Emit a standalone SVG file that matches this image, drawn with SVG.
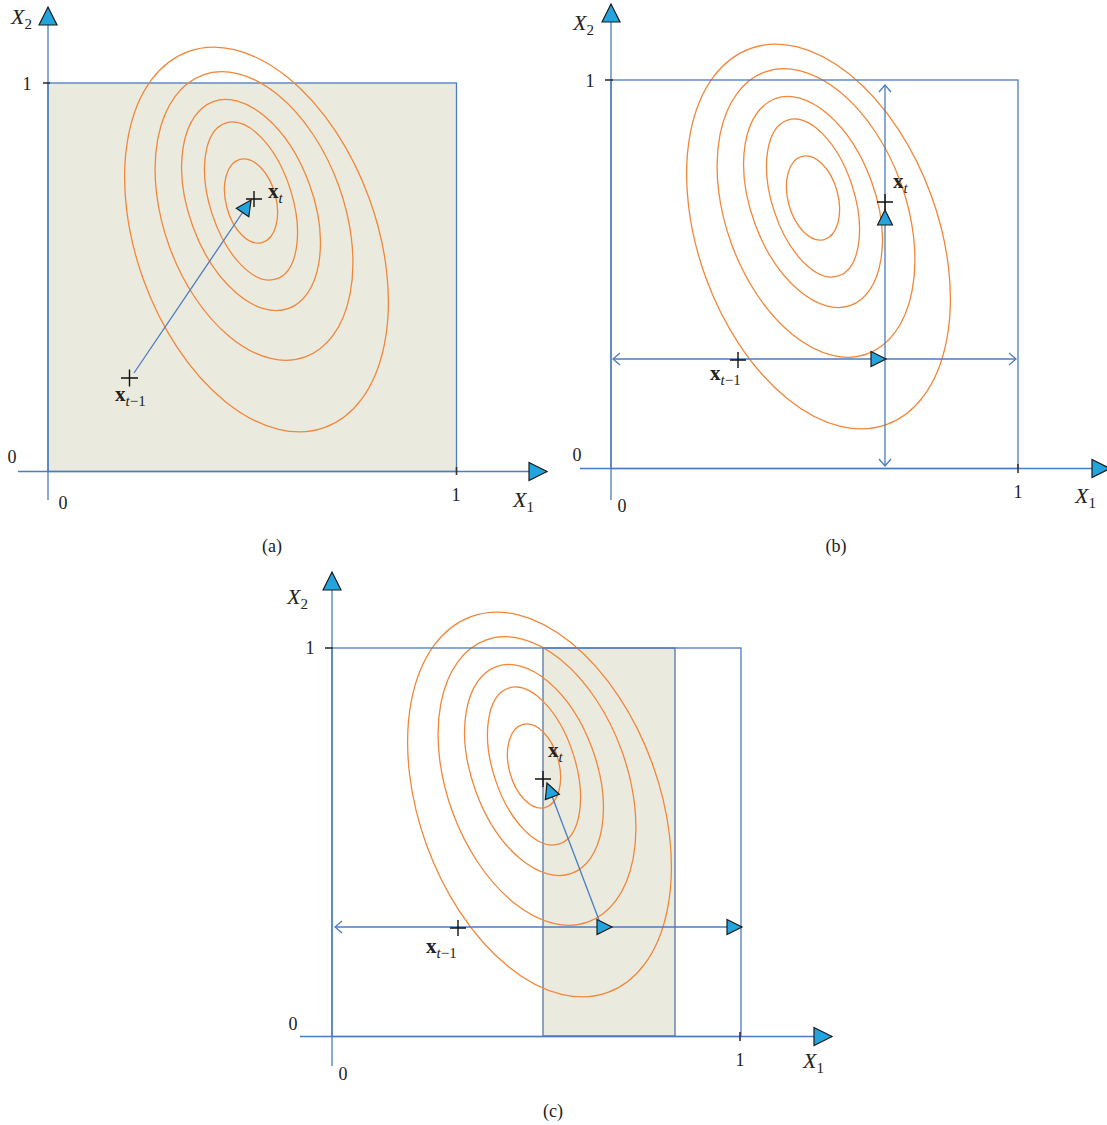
<svg xmlns="http://www.w3.org/2000/svg" xmlns:xlink="http://www.w3.org/1999/xlink" width="1107" height="1125" viewBox="0 0 1107 1125">
<style>
.ax{stroke:#4A7CC0;stroke-width:1.3;fill:none}
.ell{stroke:#F0873A;stroke-width:1.3;fill:none}
.tick{stroke:#333;stroke-width:1.6}
.cross{stroke:#111;stroke-width:1.4;fill:none}
.shade{fill:#EBEADF;stroke:#4A7CC0;stroke-width:1.3}
.tri{fill:#22A5DF;stroke:#1a1a1a;stroke-width:1.2;stroke-linejoin:miter}
text{font-family:"Liberation Serif","DejaVu Serif",serif;fill:#222}
.num{font-size:18px}
.var{font-size:22px;font-style:italic}
.sub{font-size:15px;font-style:normal}
.bx{font-size:21px;font-weight:bold}
.it{font-style:italic;font-weight:normal;font-size:15px}
.rm{font-style:normal;font-weight:normal;font-size:15px}
</style>
<defs>
<marker id="axTri" markerUnits="userSpaceOnUse" markerWidth="20" markerHeight="20" refX="18" refY="9" orient="auto" overflow="visible">
<path class="tri" d="M0,0 L18,9 L0,18 z"/>
</marker>
<marker id="smTri" markerUnits="userSpaceOnUse" markerWidth="16" markerHeight="16" refX="15" refY="7.5" orient="auto" overflow="visible">
<path class="tri" d="M0,0 L15,7.5 L0,15 z"/>
</marker>
<marker id="open" markerUnits="userSpaceOnUse" markerWidth="10" markerHeight="14" refX="8" refY="7" orient="auto-start-reverse" overflow="visible">
<path d="M1,1 L8,7 L1,13" fill="none" stroke="#4A7CC0" stroke-width="1.3"/>
</marker>
<path id="tri15" class="tri" d="M-15,-7.5 L0,0 L-15,7.5 z"/>
<g id="contours">
<ellipse class="ell" cx="256.5" cy="239.5" rx="120" ry="200" transform="rotate(-20 256.5 239.5)"/>
<ellipse class="ell" cx="254" cy="216" rx="90" ry="150" transform="rotate(-20 254 216)"/>
<ellipse class="ell" cx="251" cy="205" rx="62" ry="110" transform="rotate(-20 251 205)"/>
<ellipse class="ell" cx="251" cy="201" rx="41" ry="82" transform="rotate(-18 251 201)"/>
<ellipse class="ell" cx="251" cy="201" rx="25" ry="43" transform="rotate(-15 251 201)"/>
</g>
</defs>

<!-- Panel (a) -->
<g id="panel-a">
<rect id="a-region" class="shade" x="48" y="83" width="408.5" height="388.5"/>
<use href="#contours"/>
<g id="a-axes">
<line class="ax" x1="48" y1="500" x2="48" y2="7" marker-end="url(#axTri)"/>
<line class="ax" x1="18" y1="471.5" x2="547" y2="471.5" marker-end="url(#axTri)"/>
<line class="tick" x1="43" y1="83" x2="50" y2="83"/>
<line class="tick" x1="456.5" y1="467" x2="456.5" y2="475"/>
</g>
<g id="a-connectors">
<line class="ax" x1="134" y1="373" x2="251" y2="200" marker-end="url(#smTri)"/>
</g>
<g id="a-xt"><path class="cross" d="M246,199 H262 M254,191 V207"/>
<text x="268" y="198" class="bx">x<tspan class="it" dy="5">t</tspan></text></g>
<g id="a-xt1"><path class="cross" d="M121,378 H138 M129.5,369.5 V386.5"/>
<text x="115" y="401" class="bx">x<tspan class="it" dy="5">t</tspan><tspan class="rm">−1</tspan></text></g>
<text class="var" x="11" y="24">X<tspan class="sub" dy="5">2</tspan></text>
<text class="num" x="27" y="90" text-anchor="middle">1</text>
<text class="num" x="12" y="463" text-anchor="middle">0</text>
<text class="num" x="63" y="509" text-anchor="middle">0</text>
<text class="num" x="456" y="501" text-anchor="middle">1</text>
<text class="var" x="513" y="507">X<tspan class="sub" dy="5">1</tspan></text>
<text class="num" x="272" y="552" text-anchor="middle">(a)</text>
</g>

<!-- Panel (b) -->
<g id="panel-b">
<use href="#contours" transform="translate(562,-3)"/>
<g id="b-axes">
<rect class="ax" x="611" y="80" width="407" height="388.5"/>
<line class="ax" x1="611" y1="500" x2="611" y2="4" marker-end="url(#axTri)"/>
<line class="ax" x1="580" y1="468.5" x2="1110" y2="468.5" marker-end="url(#axTri)"/>
<line class="tick" x1="605" y1="80" x2="613" y2="80"/>
<line class="tick" x1="1018" y1="464" x2="1018" y2="473"/>
</g>
<g id="b-connectors">
<line class="ax" x1="885" y1="85" x2="885" y2="466" marker-start="url(#open)" marker-end="url(#open)"/>
<line class="ax" x1="613" y1="359" x2="1016" y2="359" marker-start="url(#open)" marker-end="url(#open)"/>
<use href="#tri15" transform="translate(886,359)"/>
<use href="#tri15" transform="translate(885,210) rotate(-90)"/>
</g>
<g id="b-xt"><path class="cross" d="M877,202 H893 M885,194 V210"/>
<text x="893" y="188" class="bx">x<tspan class="it" dy="5">t</tspan></text></g>
<g id="b-xt1"><path class="cross" d="M730,360 H746 M738,352 V368"/>
<text x="710" y="380" class="bx">x<tspan class="it" dy="5">t</tspan><tspan class="rm">−1</tspan></text></g>
<text class="var" x="573" y="30">X<tspan class="sub" dy="5">2</tspan></text>
<text class="num" x="590" y="87" text-anchor="middle">1</text>
<text class="num" x="577" y="461" text-anchor="middle">0</text>
<text class="num" x="622" y="512" text-anchor="middle">0</text>
<text class="num" x="1018" y="498" text-anchor="middle">1</text>
<text class="var" x="1075" y="503">X<tspan class="sub" dy="5">1</tspan></text>
<text class="num" x="836" y="552" text-anchor="middle">(b)</text>
</g>

<!-- Panel (c) -->
<g id="panel-c">
<rect id="c-region" class="shade" x="543" y="648" width="132" height="388" style="stroke:#5577A8"/>
<use href="#contours" transform="translate(283,565)"/>
<g id="c-axes">
<rect class="ax" x="332" y="648" width="409" height="388.5"/>
<line class="ax" x1="332" y1="1066" x2="332" y2="572" marker-end="url(#axTri)"/>
<line class="ax" x1="300" y1="1036.5" x2="832" y2="1036.5" marker-end="url(#axTri)"/>
<line class="tick" x1="325" y1="648" x2="333" y2="648"/>
<line class="tick" x1="740" y1="1032" x2="740" y2="1041"/>
</g>
<g id="c-connectors">
<line class="ax" x1="335" y1="927" x2="742" y2="927" marker-start="url(#open)" marker-end="url(#smTri)"/>
<use href="#tri15" transform="translate(612,927)"/>
<line class="ax" x1="599" y1="920" x2="547" y2="783" marker-end="url(#smTri)"/>
</g>
<g id="c-xt"><path class="cross" d="M535,779 H551 M543,771 V787"/>
<text x="548" y="757" class="bx">x<tspan class="it" dy="5">t</tspan></text></g>
<g id="c-xt1"><path class="cross" d="M450,928 H466 M458,920 V936"/>
<text x="426" y="953" class="bx">x<tspan class="it" dy="5">t</tspan><tspan class="rm">−1</tspan></text></g>
<text class="var" x="287" y="604">X<tspan class="sub" dy="5">2</tspan></text>
<text class="num" x="310" y="654" text-anchor="middle">1</text>
<text class="num" x="293" y="1030" text-anchor="middle">0</text>
<text class="num" x="343" y="1080" text-anchor="middle">0</text>
<text class="num" x="740" y="1066" text-anchor="middle">1</text>
<text class="var" x="803" y="1068">X<tspan class="sub" dy="5">1</tspan></text>
<text class="num" x="553" y="1117" text-anchor="middle">(c)</text>
</g>
</svg>
